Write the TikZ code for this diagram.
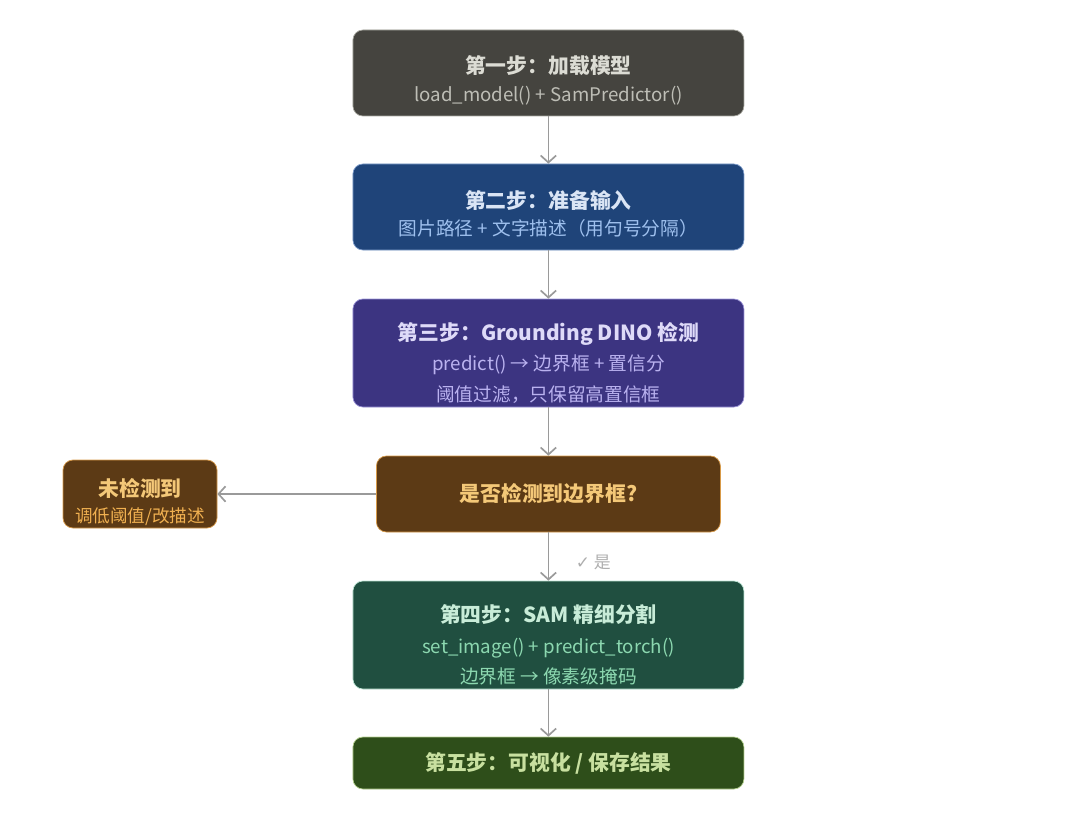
\documentclass[tikz,border=0pt]{standalone}
\usepackage{fontspec}
\setmainfont{Noto Sans CJK SC}
\newfontfamily\symfont{DejaVu Sans}
\usetikzlibrary{positioning, arrows.meta}
\definecolor{Gray-F}{HTML}{45443F}
\definecolor{Gray-B}{HTML}{A8A8A0}
\definecolor{Gray-T}{HTML}{DCDCD4}
\definecolor{Gray-S}{HTML}{BEBEB6}
\definecolor{Blue-F}{HTML}{1F4479}
\definecolor{Blue-B}{HTML}{7E9CCB}
\definecolor{Blue-T}{HTML}{DAE5F5}
\definecolor{Blue-S}{HTML}{9EC0EE}
\definecolor{Violet-F}{HTML}{3C3481}
\definecolor{Violet-B}{HTML}{9A92D6}
\definecolor{Violet-T}{HTML}{DEDAF8}
\definecolor{Violet-S}{HTML}{BAB2F0}
\definecolor{Brown-F}{HTML}{5C3A15}
\definecolor{Brown-B}{HTML}{D89A48}
\definecolor{Brown-T}{HTML}{F4C878}
\definecolor{Brown-S}{HTML}{F0B050}
\definecolor{Teal-F}{HTML}{204F40}
\definecolor{Teal-B}{HTML}{BFE6D6}
\definecolor{Teal-T}{HTML}{C8ECD8}
\definecolor{Teal-S}{HTML}{8CD8B0}
\definecolor{Olive-F}{HTML}{2E4E1A}
\definecolor{Olive-B}{HTML}{B4D08E}
\definecolor{Olive-T}{HTML}{C8E0A0}
\definecolor{Link}{HTML}{9A9A9A}
\newcommand\steptitle[2]{{\fontsize{14.8}{21}\selectfont\bfseries\color{#1}#2}}
\newcommand\stepnote[2]{{\fontsize{13.3}{21}\selectfont\color{#1}#2}}
\newcommand\droptext[1]{\rule{0pt}{#1}}

\begin{document}
\begin{tikzpicture}
        \tikzset{ stp/.style ={rounded corners=0.25cm, line width=0.5pt, minimum width=9.775cm, align=center, inner sep=0pt, font=\fontsize{13.3}{21.5}\selectfont} }
        \tikzset{ lnk/.style ={draw=Link, line width=1.2pt, -{Straight Barb[length=5pt, width=11pt]}} }

        \useasboundingbox (0,0) rectangle (27,-20.3);

        \node[stp, fill=Gray-F, draw=Gray-B, minimum height=2.15cm] (s1) at (13.71, -1.825)
              {\steptitle{Gray-T}{\droptext{23pt}第一步：加载模型}\\[-2pt]\stepnote{Gray-S}{load\_model() + SamPredictor()}};
        \node[stp, fill=Blue-F, draw=Blue-B, minimum height=2.15cm] (s2) at (13.71, -5.175)
              {\steptitle{Blue-T}{\droptext{23pt}第二步：准备输入}\\[-2pt]\stepnote{Blue-S}{图片路径 + 文字描述（用句号分隔）}};
        \node[stp, fill=Violet-F, draw=Violet-B, minimum height=2.7cm] (s3) at (13.71, -8.825)
              {\steptitle{Violet-T}{\droptext{27pt}第三步：Grounding DINO 检测}\\\stepnote{Violet-S}{predict() → 边界框 + 置信分}\\\stepnote{Violet-S}{阈值过滤，只保留高置信框}};
        \node[stp, fill=Brown-F, draw=Brown-B, minimum height=1.9cm, minimum width=8.6cm] (chk) at (13.71, -12.35)
              {\steptitle{Brown-T}{是否检测到边界框?}};
        \node[stp, fill=Brown-F, draw=Brown-B, minimum height=1.7cm, minimum width=3.85cm] (miss) at (3.5, -12.35)
              {\steptitle{Brown-T}{\droptext{24pt}未检测到}\\[-3pt]\stepnote{Brown-S}{\fontsize{12.5}{15}\selectfont 调低阈值/改描述}};
        \node[stp, fill=Teal-F, draw=Teal-B, minimum height=2.7cm] (s4) at (13.71, -15.875)
              {\steptitle{Teal-T}{\droptext{27pt}第四步：SAM 精细分割}\\\stepnote{Teal-S}{set\_image() + predict\_torch()}\\\stepnote{Teal-S}{边界框 → 像素级掩码}};
        \node[stp, fill=Olive-F, draw=Olive-B, minimum height=1.3cm] (s5) at (13.71, -19.075)
              {\steptitle{Olive-T}{第五步：可视化 / 保存结果}};

        \draw[lnk] (s1) -- (s2);
        \draw[lnk] (s2) -- (s3);
        \draw[lnk] (s3) -- (chk);
        \draw[lnk] (chk) -- (miss);
        \draw[lnk] (chk) -- (s4) node [pos=0.62, right=0.55cm, text=Link!80, font=\fontsize{12}{14}\selectfont] (yes) {{\symfont ✓} 是};
        \draw[lnk] (s4) -- (s5);
\end{tikzpicture}
\end{document}
